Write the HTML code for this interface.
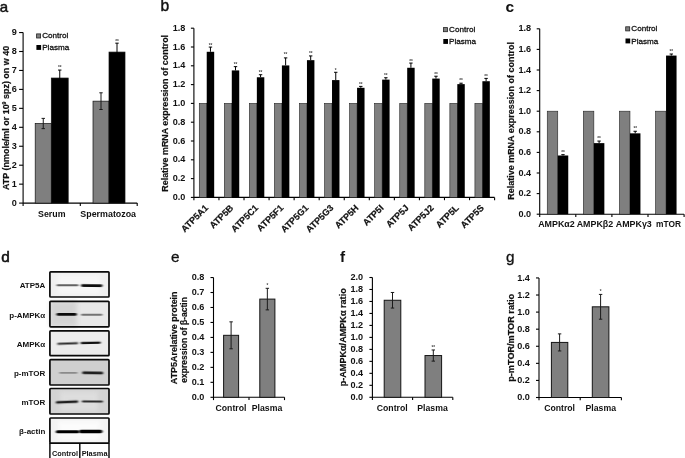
<!DOCTYPE html>
<html><head><meta charset="utf-8"><title>Figure</title>
<style>html,body{margin:0;padding:0;background:#fff;}body{width:685px;height:458px;overflow:hidden;font-family:"Liberation Sans",sans-serif;}</style>
</head><body>
<svg width="685" height="458" viewBox="0 0 685 458" font-family="'Liberation Sans', sans-serif" style="display:block;filter:grayscale(1)"><text x="-0.30" y="11.50" font-size="15" text-anchor="start" font-weight="normal" fill="#111" stroke="#111" stroke-width="0.5">a</text>
<line x1="19.10" y1="203.10" x2="23.10" y2="203.10" stroke="#000" stroke-width="1.1"/>
<text x="16.70" y="205.70" font-size="9.1" text-anchor="end" font-weight="bold" fill="#111">0</text>
<line x1="19.10" y1="184.15" x2="23.10" y2="184.15" stroke="#000" stroke-width="1.1"/>
<text x="16.70" y="186.75" font-size="9.1" text-anchor="end" font-weight="bold" fill="#111">1</text>
<line x1="19.10" y1="165.20" x2="23.10" y2="165.20" stroke="#000" stroke-width="1.1"/>
<text x="16.70" y="167.80" font-size="9.1" text-anchor="end" font-weight="bold" fill="#111">2</text>
<line x1="19.10" y1="146.25" x2="23.10" y2="146.25" stroke="#000" stroke-width="1.1"/>
<text x="16.70" y="148.85" font-size="9.1" text-anchor="end" font-weight="bold" fill="#111">3</text>
<line x1="19.10" y1="127.30" x2="23.10" y2="127.30" stroke="#000" stroke-width="1.1"/>
<text x="16.70" y="129.90" font-size="9.1" text-anchor="end" font-weight="bold" fill="#111">4</text>
<line x1="19.10" y1="108.35" x2="23.10" y2="108.35" stroke="#000" stroke-width="1.1"/>
<text x="16.70" y="110.95" font-size="9.1" text-anchor="end" font-weight="bold" fill="#111">5</text>
<line x1="19.10" y1="89.40" x2="23.10" y2="89.40" stroke="#000" stroke-width="1.1"/>
<text x="16.70" y="92.00" font-size="9.1" text-anchor="end" font-weight="bold" fill="#111">6</text>
<line x1="19.10" y1="70.45" x2="23.10" y2="70.45" stroke="#000" stroke-width="1.1"/>
<text x="16.70" y="73.05" font-size="9.1" text-anchor="end" font-weight="bold" fill="#111">7</text>
<line x1="19.10" y1="51.50" x2="23.10" y2="51.50" stroke="#000" stroke-width="1.1"/>
<text x="16.70" y="54.10" font-size="9.1" text-anchor="end" font-weight="bold" fill="#111">8</text>
<line x1="19.10" y1="32.55" x2="23.10" y2="32.55" stroke="#000" stroke-width="1.1"/>
<text x="16.70" y="35.15" font-size="9.1" text-anchor="end" font-weight="bold" fill="#111">9</text>
<line x1="23.10" y1="32.55" x2="23.10" y2="205.90" stroke="#000" stroke-width="1.1"/>
<line x1="23.10" y1="203.10" x2="137.20" y2="203.10" stroke="#000" stroke-width="1.1"/>
<line x1="80.30" y1="203.10" x2="80.30" y2="205.90" stroke="#000" stroke-width="1.1"/>
<line x1="137.20" y1="203.10" x2="137.20" y2="205.90" stroke="#000" stroke-width="1.1"/>
<rect x="35.20" y="123.51" width="16.10" height="79.59" fill="#7f7f7f" stroke="#111" stroke-width="0.7"/>
<rect x="51.30" y="78.03" width="16.90" height="125.07" fill="#000" stroke="#111" stroke-width="0.7"/>
<rect x="93.00" y="101.15" width="16.00" height="101.95" fill="#7f7f7f" stroke="#111" stroke-width="0.7"/>
<rect x="109.00" y="52.07" width="16.00" height="151.03" fill="#000" stroke="#111" stroke-width="0.7"/>
<line x1="43.25" y1="118.39" x2="43.25" y2="128.63" stroke="#1a1a1a" stroke-width="1.0"/>
<line x1="41.55" y1="118.39" x2="44.95" y2="118.39" stroke="#1a1a1a" stroke-width="1.0"/>
<line x1="41.55" y1="128.63" x2="44.95" y2="128.63" stroke="#1a1a1a" stroke-width="1.0"/>
<line x1="59.75" y1="70.07" x2="59.75" y2="85.99" stroke="#000" stroke-width="1.0"/>
<line x1="58.05" y1="70.07" x2="61.45" y2="70.07" stroke="#000" stroke-width="1.0"/>
<line x1="58.05" y1="85.99" x2="61.45" y2="85.99" stroke="#000" stroke-width="1.0"/>
<line x1="101.00" y1="92.81" x2="101.00" y2="109.49" stroke="#1a1a1a" stroke-width="1.0"/>
<line x1="99.30" y1="92.81" x2="102.70" y2="92.81" stroke="#1a1a1a" stroke-width="1.0"/>
<line x1="99.30" y1="109.49" x2="102.70" y2="109.49" stroke="#1a1a1a" stroke-width="1.0"/>
<line x1="117.00" y1="43.16" x2="117.00" y2="60.97" stroke="#000" stroke-width="1.0"/>
<line x1="115.30" y1="43.16" x2="118.70" y2="43.16" stroke="#000" stroke-width="1.0"/>
<line x1="115.30" y1="60.97" x2="118.70" y2="60.97" stroke="#000" stroke-width="1.0"/>
<text x="59.70" y="69.30" font-size="4.6" text-anchor="middle" font-weight="bold" fill="#444">**</text>
<text x="117.00" y="43.00" font-size="4.6" text-anchor="middle" font-weight="bold" fill="#444">**</text>
<text x="51.80" y="216.60" font-size="8.8" text-anchor="middle" font-weight="bold" fill="#111">Serum</text>
<text x="108.20" y="216.60" font-size="8.9" text-anchor="middle" font-weight="bold" fill="#111">Spermatozoa</text>
<text x="8.60" y="117.90" font-size="8.95" text-anchor="middle" font-weight="bold" fill="#111" stroke="#111" stroke-width="0.2" transform="rotate(-90 8.60 117.90)">ATP (nmole/ml or 10<tspan font-size='5.2' dy='-3'>9</tspan><tspan dy='3'> spz) on w 40</tspan></text>
<rect x="36.60" y="33.90" width="4.00" height="4.10" fill="#7f7f7f" stroke="#222" stroke-width="0.8"/>
<text x="42.20" y="38.30" font-size="8.1" text-anchor="start" font-weight="normal" fill="#111" stroke="#111" stroke-width="0.3">Control</text>
<rect x="36.40" y="45.00" width="4.70" height="4.90" fill="#000"/>
<text x="42.20" y="50.05" font-size="8.1" text-anchor="start" font-weight="normal" fill="#111" stroke="#111" stroke-width="0.3">Plasma</text>
<text x="160.60" y="11.20" font-size="15.6" text-anchor="start" font-weight="normal" fill="#111" stroke="#111" stroke-width="0.45">b</text>
<line x1="190.90" y1="197.40" x2="193.90" y2="197.40" stroke="#000" stroke-width="1.1"/>
<text x="185.30" y="200.00" font-size="9.1" text-anchor="end" font-weight="bold" fill="#111">0.0</text>
<line x1="190.90" y1="178.60" x2="193.90" y2="178.60" stroke="#000" stroke-width="1.1"/>
<text x="185.30" y="181.20" font-size="9.1" text-anchor="end" font-weight="bold" fill="#111">0.2</text>
<line x1="190.90" y1="159.80" x2="193.90" y2="159.80" stroke="#000" stroke-width="1.1"/>
<text x="185.30" y="162.40" font-size="9.1" text-anchor="end" font-weight="bold" fill="#111">0.4</text>
<line x1="190.90" y1="141.00" x2="193.90" y2="141.00" stroke="#000" stroke-width="1.1"/>
<text x="185.30" y="143.60" font-size="9.1" text-anchor="end" font-weight="bold" fill="#111">0.6</text>
<line x1="190.90" y1="122.20" x2="193.90" y2="122.20" stroke="#000" stroke-width="1.1"/>
<text x="185.30" y="124.80" font-size="9.1" text-anchor="end" font-weight="bold" fill="#111">0.8</text>
<line x1="190.90" y1="103.40" x2="193.90" y2="103.40" stroke="#000" stroke-width="1.1"/>
<text x="185.30" y="106.00" font-size="9.1" text-anchor="end" font-weight="bold" fill="#111">1.0</text>
<line x1="190.90" y1="84.60" x2="193.90" y2="84.60" stroke="#000" stroke-width="1.1"/>
<text x="185.30" y="87.20" font-size="9.1" text-anchor="end" font-weight="bold" fill="#111">1.2</text>
<line x1="190.90" y1="65.80" x2="193.90" y2="65.80" stroke="#000" stroke-width="1.1"/>
<text x="185.30" y="68.40" font-size="9.1" text-anchor="end" font-weight="bold" fill="#111">1.4</text>
<line x1="190.90" y1="47.00" x2="193.90" y2="47.00" stroke="#000" stroke-width="1.1"/>
<text x="185.30" y="49.60" font-size="9.1" text-anchor="end" font-weight="bold" fill="#111">1.6</text>
<line x1="190.90" y1="28.20" x2="193.90" y2="28.20" stroke="#000" stroke-width="1.1"/>
<text x="185.30" y="30.80" font-size="9.1" text-anchor="end" font-weight="bold" fill="#111">1.8</text>
<line x1="193.90" y1="28.20" x2="193.90" y2="200.20" stroke="#000" stroke-width="1.1"/>
<line x1="193.90" y1="197.40" x2="494.60" y2="197.40" stroke="#000" stroke-width="1.1"/>
<line x1="218.96" y1="197.40" x2="218.96" y2="200.20" stroke="#000" stroke-width="1.1"/>
<rect x="199.28" y="103.40" width="7.45" height="94.00" fill="#7f7f7f" stroke="#222" stroke-width="0.6"/>
<rect x="206.73" y="51.79" width="7.45" height="145.61" fill="#000"/>
<line x1="210.45" y1="47.09" x2="210.45" y2="51.79" stroke="#000" stroke-width="1.0"/>
<line x1="208.75" y1="47.09" x2="212.15" y2="47.09" stroke="#000" stroke-width="1.0"/>
<text x="210.45" y="47.00" font-size="4.6" text-anchor="middle" font-weight="bold" fill="#444">**</text>
<text x="208.83" y="208.50" font-size="9.1" text-anchor="end" font-weight="bold" fill="#111" stroke="#111" stroke-width="0.2" transform="rotate(-45 208.83 208.50)">ATP5A1</text>
<line x1="244.02" y1="197.40" x2="244.02" y2="200.20" stroke="#000" stroke-width="1.1"/>
<rect x="224.34" y="103.40" width="7.45" height="94.00" fill="#7f7f7f" stroke="#222" stroke-width="0.6"/>
<rect x="231.79" y="70.41" width="7.45" height="126.99" fill="#000"/>
<line x1="235.51" y1="66.65" x2="235.51" y2="70.41" stroke="#000" stroke-width="1.0"/>
<line x1="233.81" y1="66.65" x2="237.21" y2="66.65" stroke="#000" stroke-width="1.0"/>
<text x="235.51" y="66.00" font-size="4.6" text-anchor="middle" font-weight="bold" fill="#444">**</text>
<text x="233.89" y="208.50" font-size="9.1" text-anchor="end" font-weight="bold" fill="#111" stroke="#111" stroke-width="0.2" transform="rotate(-45 233.89 208.50)">ATP5B</text>
<line x1="269.08" y1="197.40" x2="269.08" y2="200.20" stroke="#000" stroke-width="1.1"/>
<rect x="249.40" y="103.40" width="7.45" height="94.00" fill="#7f7f7f" stroke="#222" stroke-width="0.6"/>
<rect x="256.85" y="77.27" width="7.45" height="120.13" fill="#000"/>
<line x1="260.57" y1="74.73" x2="260.57" y2="77.27" stroke="#000" stroke-width="1.0"/>
<line x1="258.87" y1="74.73" x2="262.27" y2="74.73" stroke="#000" stroke-width="1.0"/>
<text x="260.57" y="73.80" font-size="4.6" text-anchor="middle" font-weight="bold" fill="#444">**</text>
<text x="258.95" y="208.50" font-size="9.1" text-anchor="end" font-weight="bold" fill="#111" stroke="#111" stroke-width="0.2" transform="rotate(-45 258.95 208.50)">ATP5C1</text>
<line x1="294.13" y1="197.40" x2="294.13" y2="200.20" stroke="#000" stroke-width="1.1"/>
<rect x="274.45" y="103.40" width="7.45" height="94.00" fill="#7f7f7f" stroke="#222" stroke-width="0.6"/>
<rect x="281.90" y="65.42" width="7.45" height="131.98" fill="#000"/>
<line x1="285.63" y1="57.90" x2="285.63" y2="65.42" stroke="#000" stroke-width="1.0"/>
<line x1="283.93" y1="57.90" x2="287.33" y2="57.90" stroke="#000" stroke-width="1.0"/>
<text x="285.63" y="56.20" font-size="4.6" text-anchor="middle" font-weight="bold" fill="#444">**</text>
<text x="284.00" y="208.50" font-size="9.1" text-anchor="end" font-weight="bold" fill="#111" stroke="#111" stroke-width="0.2" transform="rotate(-45 284.00 208.50)">ATP5F1</text>
<line x1="319.19" y1="197.40" x2="319.19" y2="200.20" stroke="#000" stroke-width="1.1"/>
<rect x="299.51" y="103.40" width="7.45" height="94.00" fill="#7f7f7f" stroke="#222" stroke-width="0.6"/>
<rect x="306.96" y="60.16" width="7.45" height="137.24" fill="#000"/>
<line x1="310.69" y1="55.93" x2="310.69" y2="60.16" stroke="#000" stroke-width="1.0"/>
<line x1="308.99" y1="55.93" x2="312.39" y2="55.93" stroke="#000" stroke-width="1.0"/>
<text x="310.69" y="54.70" font-size="4.6" text-anchor="middle" font-weight="bold" fill="#444">**</text>
<text x="309.06" y="208.50" font-size="9.1" text-anchor="end" font-weight="bold" fill="#111" stroke="#111" stroke-width="0.2" transform="rotate(-45 309.06 208.50)">ATP5G1</text>
<line x1="344.25" y1="197.40" x2="344.25" y2="200.20" stroke="#000" stroke-width="1.1"/>
<rect x="324.57" y="103.40" width="7.45" height="94.00" fill="#7f7f7f" stroke="#222" stroke-width="0.6"/>
<rect x="332.02" y="80.09" width="7.45" height="117.31" fill="#000"/>
<line x1="335.75" y1="72.29" x2="335.75" y2="80.09" stroke="#000" stroke-width="1.0"/>
<line x1="334.05" y1="72.29" x2="337.45" y2="72.29" stroke="#000" stroke-width="1.0"/>
<text x="335.75" y="72.00" font-size="4.6" text-anchor="middle" font-weight="bold" fill="#444">*</text>
<text x="334.12" y="208.50" font-size="9.1" text-anchor="end" font-weight="bold" fill="#111" stroke="#111" stroke-width="0.2" transform="rotate(-45 334.12 208.50)">ATP5G3</text>
<line x1="369.31" y1="197.40" x2="369.31" y2="200.20" stroke="#000" stroke-width="1.1"/>
<rect x="349.63" y="103.40" width="7.45" height="94.00" fill="#7f7f7f" stroke="#222" stroke-width="0.6"/>
<rect x="357.08" y="87.80" width="7.45" height="109.60" fill="#000"/>
<line x1="360.80" y1="86.39" x2="360.80" y2="87.80" stroke="#000" stroke-width="1.0"/>
<line x1="359.10" y1="86.39" x2="362.50" y2="86.39" stroke="#000" stroke-width="1.0"/>
<text x="360.80" y="85.70" font-size="4.6" text-anchor="middle" font-weight="bold" fill="#444">**</text>
<text x="359.18" y="208.50" font-size="9.1" text-anchor="end" font-weight="bold" fill="#111" stroke="#111" stroke-width="0.2" transform="rotate(-45 359.18 208.50)">ATP5H</text>
<line x1="394.37" y1="197.40" x2="394.37" y2="200.20" stroke="#000" stroke-width="1.1"/>
<rect x="374.69" y="103.40" width="7.45" height="94.00" fill="#7f7f7f" stroke="#222" stroke-width="0.6"/>
<rect x="382.14" y="79.62" width="7.45" height="117.78" fill="#000"/>
<line x1="385.86" y1="77.74" x2="385.86" y2="79.62" stroke="#000" stroke-width="1.0"/>
<line x1="384.16" y1="77.74" x2="387.56" y2="77.74" stroke="#000" stroke-width="1.0"/>
<text x="385.86" y="77.00" font-size="4.6" text-anchor="middle" font-weight="bold" fill="#444">**</text>
<text x="384.24" y="208.50" font-size="9.1" text-anchor="end" font-weight="bold" fill="#111" stroke="#111" stroke-width="0.2" transform="rotate(-45 384.24 208.50)">ATP5I</text>
<line x1="419.43" y1="197.40" x2="419.43" y2="200.20" stroke="#000" stroke-width="1.1"/>
<rect x="399.75" y="103.40" width="7.45" height="94.00" fill="#7f7f7f" stroke="#222" stroke-width="0.6"/>
<rect x="407.20" y="67.77" width="7.45" height="129.63" fill="#000"/>
<line x1="410.92" y1="63.07" x2="410.92" y2="67.77" stroke="#000" stroke-width="1.0"/>
<line x1="409.22" y1="63.07" x2="412.62" y2="63.07" stroke="#000" stroke-width="1.0"/>
<text x="410.92" y="62.80" font-size="4.6" text-anchor="middle" font-weight="bold" fill="#444">**</text>
<text x="409.30" y="208.50" font-size="9.1" text-anchor="end" font-weight="bold" fill="#111" stroke="#111" stroke-width="0.2" transform="rotate(-45 409.30 208.50)">ATP5J</text>
<line x1="444.48" y1="197.40" x2="444.48" y2="200.20" stroke="#000" stroke-width="1.1"/>
<rect x="424.80" y="103.40" width="7.45" height="94.00" fill="#7f7f7f" stroke="#222" stroke-width="0.6"/>
<rect x="432.25" y="78.58" width="7.45" height="118.82" fill="#000"/>
<line x1="435.98" y1="76.23" x2="435.98" y2="78.58" stroke="#000" stroke-width="1.0"/>
<line x1="434.28" y1="76.23" x2="437.68" y2="76.23" stroke="#000" stroke-width="1.0"/>
<text x="435.98" y="75.90" font-size="4.6" text-anchor="middle" font-weight="bold" fill="#444">**</text>
<text x="434.35" y="208.50" font-size="9.1" text-anchor="end" font-weight="bold" fill="#111" stroke="#111" stroke-width="0.2" transform="rotate(-45 434.35 208.50)">ATP5J2</text>
<line x1="469.54" y1="197.40" x2="469.54" y2="200.20" stroke="#000" stroke-width="1.1"/>
<rect x="449.86" y="103.40" width="7.45" height="94.00" fill="#7f7f7f" stroke="#222" stroke-width="0.6"/>
<rect x="457.31" y="84.13" width="7.45" height="113.27" fill="#000"/>
<line x1="461.04" y1="83.19" x2="461.04" y2="84.13" stroke="#000" stroke-width="1.0"/>
<line x1="459.34" y1="83.19" x2="462.74" y2="83.19" stroke="#000" stroke-width="1.0"/>
<text x="461.04" y="81.70" font-size="4.6" text-anchor="middle" font-weight="bold" fill="#444">**</text>
<text x="459.41" y="208.50" font-size="9.1" text-anchor="end" font-weight="bold" fill="#111" stroke="#111" stroke-width="0.2" transform="rotate(-45 459.41 208.50)">ATP5L</text>
<line x1="494.60" y1="197.40" x2="494.60" y2="200.20" stroke="#000" stroke-width="1.1"/>
<rect x="474.92" y="103.40" width="7.45" height="94.00" fill="#7f7f7f" stroke="#222" stroke-width="0.6"/>
<rect x="482.37" y="81.22" width="7.45" height="116.18" fill="#000"/>
<line x1="486.10" y1="78.40" x2="486.10" y2="81.22" stroke="#000" stroke-width="1.0"/>
<line x1="484.40" y1="78.40" x2="487.80" y2="78.40" stroke="#000" stroke-width="1.0"/>
<text x="486.10" y="77.50" font-size="4.6" text-anchor="middle" font-weight="bold" fill="#444">**</text>
<text x="484.47" y="208.50" font-size="9.1" text-anchor="end" font-weight="bold" fill="#111" stroke="#111" stroke-width="0.2" transform="rotate(-45 484.47 208.50)">ATP5S</text>
<text x="168.20" y="113.30" font-size="8.93" text-anchor="middle" font-weight="bold" fill="#111" stroke="#111" stroke-width="0.2" transform="rotate(-90 168.20 113.30)">Relative mRNA expression of control</text>
<rect x="443.50" y="27.60" width="4.00" height="4.10" fill="#7f7f7f" stroke="#222" stroke-width="0.8"/>
<text x="449.10" y="32.00" font-size="8.1" text-anchor="start" font-weight="normal" fill="#111" stroke="#111" stroke-width="0.3">Control</text>
<rect x="443.30" y="39.00" width="4.70" height="4.90" fill="#000"/>
<text x="449.10" y="44.05" font-size="8.1" text-anchor="start" font-weight="normal" fill="#111" stroke="#111" stroke-width="0.3">Plasma</text>
<text x="505.50" y="11.60" font-size="15.5" text-anchor="start" font-weight="bold" fill="#111">c</text>
<line x1="536.70" y1="214.20" x2="539.70" y2="214.20" stroke="#000" stroke-width="1.1"/>
<text x="531.20" y="216.80" font-size="9.1" text-anchor="end" font-weight="bold" fill="#111">0.0</text>
<line x1="536.70" y1="193.60" x2="539.70" y2="193.60" stroke="#000" stroke-width="1.1"/>
<text x="531.20" y="196.20" font-size="9.1" text-anchor="end" font-weight="bold" fill="#111">0.2</text>
<line x1="536.70" y1="173.00" x2="539.70" y2="173.00" stroke="#000" stroke-width="1.1"/>
<text x="531.20" y="175.60" font-size="9.1" text-anchor="end" font-weight="bold" fill="#111">0.4</text>
<line x1="536.70" y1="152.40" x2="539.70" y2="152.40" stroke="#000" stroke-width="1.1"/>
<text x="531.20" y="155.00" font-size="9.1" text-anchor="end" font-weight="bold" fill="#111">0.6</text>
<line x1="536.70" y1="131.80" x2="539.70" y2="131.80" stroke="#000" stroke-width="1.1"/>
<text x="531.20" y="134.40" font-size="9.1" text-anchor="end" font-weight="bold" fill="#111">0.8</text>
<line x1="536.70" y1="111.20" x2="539.70" y2="111.20" stroke="#000" stroke-width="1.1"/>
<text x="531.20" y="113.80" font-size="9.1" text-anchor="end" font-weight="bold" fill="#111">1.0</text>
<line x1="536.70" y1="90.60" x2="539.70" y2="90.60" stroke="#000" stroke-width="1.1"/>
<text x="531.20" y="93.20" font-size="9.1" text-anchor="end" font-weight="bold" fill="#111">1.2</text>
<line x1="536.70" y1="70.00" x2="539.70" y2="70.00" stroke="#000" stroke-width="1.1"/>
<text x="531.20" y="72.60" font-size="9.1" text-anchor="end" font-weight="bold" fill="#111">1.4</text>
<line x1="536.70" y1="49.40" x2="539.70" y2="49.40" stroke="#000" stroke-width="1.1"/>
<text x="531.20" y="52.00" font-size="9.1" text-anchor="end" font-weight="bold" fill="#111">1.6</text>
<line x1="536.70" y1="28.80" x2="539.70" y2="28.80" stroke="#000" stroke-width="1.1"/>
<text x="531.20" y="31.40" font-size="9.1" text-anchor="end" font-weight="bold" fill="#111">1.8</text>
<line x1="539.70" y1="28.80" x2="539.70" y2="217.00" stroke="#000" stroke-width="1.1"/>
<line x1="539.70" y1="214.20" x2="684.10" y2="214.20" stroke="#000" stroke-width="1.1"/>
<line x1="575.80" y1="214.20" x2="575.80" y2="217.00" stroke="#000" stroke-width="1.1"/>
<rect x="547.25" y="111.20" width="10.50" height="103.00" fill="#7f7f7f" stroke="#222" stroke-width="0.6"/>
<rect x="557.75" y="155.49" width="10.50" height="58.71" fill="#000"/>
<line x1="563.00" y1="154.67" x2="563.00" y2="155.49" stroke="#000" stroke-width="1.0"/>
<line x1="561.30" y1="154.67" x2="564.70" y2="154.67" stroke="#000" stroke-width="1.0"/>
<text x="563.00" y="153.60" font-size="4.6" text-anchor="middle" font-weight="bold" fill="#444">**</text>
<text x="538.20" y="226.90" font-size="8.9" text-anchor="start" font-weight="bold" fill="#111">AMPKα2</text>
<line x1="611.90" y1="214.20" x2="611.90" y2="217.00" stroke="#000" stroke-width="1.1"/>
<rect x="583.35" y="111.20" width="10.50" height="103.00" fill="#7f7f7f" stroke="#222" stroke-width="0.6"/>
<rect x="593.85" y="143.13" width="10.50" height="71.07" fill="#000"/>
<line x1="599.10" y1="141.07" x2="599.10" y2="143.13" stroke="#000" stroke-width="1.0"/>
<line x1="597.40" y1="141.07" x2="600.80" y2="141.07" stroke="#000" stroke-width="1.0"/>
<text x="599.10" y="140.40" font-size="4.6" text-anchor="middle" font-weight="bold" fill="#444">**</text>
<text x="576.70" y="226.90" font-size="8.9" text-anchor="start" font-weight="bold" fill="#111">AMPKβ2</text>
<line x1="648.00" y1="214.20" x2="648.00" y2="217.00" stroke="#000" stroke-width="1.1"/>
<rect x="619.45" y="111.20" width="10.50" height="103.00" fill="#7f7f7f" stroke="#222" stroke-width="0.6"/>
<rect x="629.95" y="133.34" width="10.50" height="80.86" fill="#000"/>
<line x1="635.20" y1="131.28" x2="635.20" y2="133.34" stroke="#000" stroke-width="1.0"/>
<line x1="633.50" y1="131.28" x2="636.90" y2="131.28" stroke="#000" stroke-width="1.0"/>
<text x="635.20" y="130.20" font-size="4.6" text-anchor="middle" font-weight="bold" fill="#444">**</text>
<text x="615.80" y="226.90" font-size="8.9" text-anchor="start" font-weight="bold" fill="#111">AMPKγ3</text>
<line x1="684.10" y1="214.20" x2="684.10" y2="217.00" stroke="#000" stroke-width="1.1"/>
<rect x="655.55" y="111.20" width="10.50" height="103.00" fill="#7f7f7f" stroke="#222" stroke-width="0.6"/>
<rect x="666.05" y="55.58" width="10.50" height="158.62" fill="#000"/>
<line x1="671.30" y1="54.03" x2="671.30" y2="55.58" stroke="#000" stroke-width="1.0"/>
<line x1="669.60" y1="54.03" x2="673.00" y2="54.03" stroke="#000" stroke-width="1.0"/>
<text x="671.30" y="52.90" font-size="4.6" text-anchor="middle" font-weight="bold" fill="#444">**</text>
<text x="656.00" y="226.90" font-size="8.4" text-anchor="start" font-weight="bold" fill="#111">mTOR</text>
<text x="513.60" y="120.90" font-size="8.98" text-anchor="middle" font-weight="bold" fill="#111" stroke="#111" stroke-width="0.2" transform="rotate(-90 513.60 120.90)">Relative mRNA expression of control</text>
<rect x="625.70" y="26.80" width="4.00" height="4.10" fill="#7f7f7f" stroke="#222" stroke-width="0.8"/>
<text x="631.30" y="31.20" font-size="8.1" text-anchor="start" font-weight="normal" fill="#111" stroke="#111" stroke-width="0.3">Control</text>
<rect x="625.50" y="38.50" width="4.70" height="4.90" fill="#000"/>
<text x="631.30" y="43.55" font-size="8.1" text-anchor="start" font-weight="normal" fill="#111" stroke="#111" stroke-width="0.3">Plasma</text>
<text x="1.30" y="261.60" font-size="15.4" text-anchor="start" font-weight="normal" fill="#111" stroke="#111" stroke-width="0.55">d</text>
<defs><filter id="bl" x="-20%" y="-300%" width="140%" height="700%"><feGaussianBlur stdDeviation="0.9 0.7"/></filter><filter id="bl2" x="-30%" y="-30%" width="160%" height="160%"><feGaussianBlur stdDeviation="2"/></filter></defs>
<rect x="49.90" y="271.80" width="59.10" height="25.20" fill="#efefef"/>
<rect x="58" y="274.8" width="42" height="19.19999999999999" fill="#f8f8f8" opacity="0.8" filter="url(#bl2)"/>
<rect x="56.5" y="284.35" width="22.10" height="1.9" rx="0.95" fill="#000" opacity="0.6" filter="url(#bl)" transform="rotate(0 67.55 285.30)"/>
<rect x="81" y="284.25" width="21.50" height="2.7" rx="1.35" fill="#000" opacity="0.95" filter="url(#bl)" transform="rotate(0.6 91.75 285.60)"/>
<rect x="49.9" y="271.8" width="59.10" height="25.20" rx="0.8" fill="none" stroke="#0a0a0a" stroke-width="1.7"/>
<text x="45.30" y="287.60" font-size="8.0" text-anchor="end" font-weight="bold" fill="#111">ATP5A</text>
<rect x="49.90" y="301.30" width="59.10" height="25.50" fill="#e8e8e8"/>
<rect x="50" y="301.3" width="27" height="25.5" fill="#d0d0d0" opacity="0.85" filter="url(#bl2)"/>
<rect x="56.5" y="312.95" width="20.30" height="2.9" rx="1.45" fill="#000" opacity="0.95" filter="url(#bl)" transform="rotate(0 66.65 314.40)"/>
<rect x="81" y="313.80" width="21.50" height="2.0" rx="1.0" fill="#000" opacity="0.5" filter="url(#bl)" transform="rotate(0 91.75 314.80)"/>
<rect x="49.9" y="301.3" width="59.10" height="25.50" rx="0.8" fill="none" stroke="#0a0a0a" stroke-width="1.7"/>
<text x="45.30" y="317.65" font-size="8.0" text-anchor="end" font-weight="bold" fill="#111">p-AMPKα</text>
<rect x="49.90" y="330.90" width="59.10" height="24.80" fill="#ececec"/>
<rect x="57.2" y="342.55" width="21.00" height="1.9" rx="0.95" fill="#000" opacity="0.8" filter="url(#bl)" transform="rotate(-2.0 67.70 343.50)"/>
<rect x="80.5" y="341.65" width="20.30" height="2.3" rx="1.15" fill="#000" opacity="0.92" filter="url(#bl)" transform="rotate(-1.2 90.65 342.80)"/>
<rect x="49.9" y="330.9" width="59.10" height="24.80" rx="0.8" fill="none" stroke="#0a0a0a" stroke-width="1.7"/>
<text x="45.30" y="346.50" font-size="8.0" text-anchor="end" font-weight="bold" fill="#111">AMPKα</text>
<rect x="49.90" y="359.60" width="59.10" height="25.40" fill="#cfcfcf"/>
<rect x="59.2" y="371.90" width="18.30" height="1.8" rx="0.9" fill="#000" opacity="0.33" filter="url(#bl)" transform="rotate(0 68.35 372.80)"/>
<rect x="82.2" y="371.60" width="21.00" height="2.6" rx="1.3" fill="#000" opacity="0.85" filter="url(#bl)" transform="rotate(1.0 92.70 372.90)"/>
<rect x="49.9" y="359.6" width="59.10" height="25.40" rx="0.8" fill="none" stroke="#0a0a0a" stroke-width="1.7"/>
<text x="45.30" y="376.40" font-size="8.0" text-anchor="end" font-weight="bold" fill="#111">p-mTOR</text>
<rect x="49.90" y="388.50" width="59.10" height="25.50" fill="#d3d3d3"/>
<rect x="60" y="391.5" width="38" height="19.5" fill="#e2e2e2" opacity="0.7" filter="url(#bl2)"/>
<rect x="55.8" y="400.80" width="22.40" height="2.4" rx="1.2" fill="#000" opacity="0.85" filter="url(#bl)" transform="rotate(-2.2 67.00 402.00)"/>
<rect x="81.8" y="400.60" width="21.20" height="2.0" rx="1.0" fill="#000" opacity="0.8" filter="url(#bl)" transform="rotate(0.5 92.40 401.60)"/>
<rect x="49.9" y="388.5" width="59.10" height="25.50" rx="0.8" fill="none" stroke="#0a0a0a" stroke-width="1.7"/>
<text x="45.30" y="405.45" font-size="8.0" text-anchor="end" font-weight="bold" fill="#111">mTOR</text>
<rect x="49.90" y="418.00" width="59.10" height="25.10" fill="#f3f3f3"/>
<rect x="58" y="421.0" width="42" height="19.100000000000023" fill="#fdfdfd" opacity="0.9" filter="url(#bl2)"/>
<rect x="55.8" y="430.30" width="23.70" height="3.0" rx="1.5" fill="#000" opacity="1.0" filter="url(#bl)" transform="rotate(0 67.65 431.80)"/>
<rect x="79" y="429.85" width="23.50" height="3.3" rx="1.65" fill="#000" opacity="1.0" filter="url(#bl)" transform="rotate(0 90.75 431.50)"/>
<rect x="49.9" y="418.0" width="59.10" height="25.10" rx="0.8" fill="none" stroke="#0a0a0a" stroke-width="1.7"/>
<text x="45.30" y="434.15" font-size="8.0" text-anchor="end" font-weight="bold" fill="#111">β-actin</text>
<line x1="49.90" y1="443.10" x2="49.90" y2="458.00" stroke="#000" stroke-width="1.4"/>
<line x1="109.00" y1="443.10" x2="109.00" y2="458.00" stroke="#000" stroke-width="1.4"/>
<line x1="79.80" y1="443.10" x2="79.80" y2="458.00" stroke="#000" stroke-width="1.4"/>
<text x="65.00" y="456.00" font-size="7.3" text-anchor="middle" font-weight="bold" fill="#111">Control</text>
<text x="94.60" y="456.00" font-size="7.4" text-anchor="middle" font-weight="bold" fill="#111">Plasma</text>
<text x="171.00" y="261.60" font-size="15.3" text-anchor="start" font-weight="normal" fill="#111" stroke="#111" stroke-width="0.3">e</text>
<line x1="210.50" y1="397.30" x2="213.50" y2="397.30" stroke="#000" stroke-width="1.1"/>
<text x="204.30" y="399.90" font-size="9.1" text-anchor="end" font-weight="bold" fill="#111">0.0</text>
<line x1="210.50" y1="382.33" x2="213.50" y2="382.33" stroke="#000" stroke-width="1.1"/>
<text x="204.30" y="384.93" font-size="9.1" text-anchor="end" font-weight="bold" fill="#111">0.1</text>
<line x1="210.50" y1="367.36" x2="213.50" y2="367.36" stroke="#000" stroke-width="1.1"/>
<text x="204.30" y="369.96" font-size="9.1" text-anchor="end" font-weight="bold" fill="#111">0.2</text>
<line x1="210.50" y1="352.39" x2="213.50" y2="352.39" stroke="#000" stroke-width="1.1"/>
<text x="204.30" y="354.99" font-size="9.1" text-anchor="end" font-weight="bold" fill="#111">0.3</text>
<line x1="210.50" y1="337.42" x2="213.50" y2="337.42" stroke="#000" stroke-width="1.1"/>
<text x="204.30" y="340.02" font-size="9.1" text-anchor="end" font-weight="bold" fill="#111">0.4</text>
<line x1="210.50" y1="322.45" x2="213.50" y2="322.45" stroke="#000" stroke-width="1.1"/>
<text x="204.30" y="325.05" font-size="9.1" text-anchor="end" font-weight="bold" fill="#111">0.5</text>
<line x1="210.50" y1="307.48" x2="213.50" y2="307.48" stroke="#000" stroke-width="1.1"/>
<text x="204.30" y="310.08" font-size="9.1" text-anchor="end" font-weight="bold" fill="#111">0.6</text>
<line x1="210.50" y1="292.51" x2="213.50" y2="292.51" stroke="#000" stroke-width="1.1"/>
<text x="204.30" y="295.11" font-size="9.1" text-anchor="end" font-weight="bold" fill="#111">0.7</text>
<line x1="210.50" y1="277.54" x2="213.50" y2="277.54" stroke="#000" stroke-width="1.1"/>
<text x="204.30" y="280.14" font-size="9.1" text-anchor="end" font-weight="bold" fill="#111">0.8</text>
<line x1="213.50" y1="277.54" x2="213.50" y2="400.10" stroke="#000" stroke-width="1.1"/>
<line x1="213.50" y1="397.30" x2="284.50" y2="397.30" stroke="#000" stroke-width="1.1"/>
<line x1="249.00" y1="397.30" x2="249.00" y2="400.10" stroke="#000" stroke-width="1.1"/>
<line x1="284.50" y1="397.30" x2="284.50" y2="400.10" stroke="#000" stroke-width="1.1"/>
<rect x="223.60" y="335.32" width="15.00" height="61.98" fill="#7f7f7f" stroke="#151515" stroke-width="1.0"/>
<line x1="231.10" y1="321.85" x2="231.10" y2="348.80" stroke="#1a1a1a" stroke-width="1.0"/>
<line x1="229.40" y1="321.85" x2="232.80" y2="321.85" stroke="#1a1a1a" stroke-width="1.0"/>
<line x1="229.40" y1="348.80" x2="232.80" y2="348.80" stroke="#1a1a1a" stroke-width="1.0"/>
<rect x="259.80" y="299.10" width="15.10" height="98.20" fill="#7f7f7f" stroke="#151515" stroke-width="1.0"/>
<line x1="267.35" y1="288.32" x2="267.35" y2="309.88" stroke="#1a1a1a" stroke-width="1.0"/>
<line x1="265.65" y1="288.32" x2="269.05" y2="288.32" stroke="#1a1a1a" stroke-width="1.0"/>
<line x1="265.65" y1="309.88" x2="269.05" y2="309.88" stroke="#1a1a1a" stroke-width="1.0"/>
<text x="230.95" y="411.00" font-size="8.7" text-anchor="middle" font-weight="bold" fill="#111">Control</text>
<text x="267.05" y="411.00" font-size="8.7" text-anchor="middle" font-weight="bold" fill="#111">Plasma</text>
<text x="177.30" y="337.80" font-size="8.95" text-anchor="middle" font-weight="bold" fill="#111" stroke="#111" stroke-width="0.2" transform="rotate(-90 177.30 337.80)">ATP5Arelative protein</text>
<text x="187.40" y="339.90" font-size="8.5" text-anchor="middle" font-weight="bold" fill="#111" stroke="#111" stroke-width="0.2" transform="rotate(-90 187.40 339.90)">expression of β-actin</text>
<text x="267.30" y="286.90" font-size="4.6" text-anchor="middle" font-weight="bold" fill="#444">*</text>
<text x="340.00" y="261.60" font-size="15.3" text-anchor="start" font-weight="bold" fill="#111">f</text>
<line x1="369.40" y1="397.30" x2="372.40" y2="397.30" stroke="#000" stroke-width="1.1"/>
<text x="363.20" y="399.90" font-size="9.1" text-anchor="end" font-weight="bold" fill="#111">0.0</text>
<line x1="369.40" y1="385.32" x2="372.40" y2="385.32" stroke="#000" stroke-width="1.1"/>
<text x="363.20" y="387.92" font-size="9.1" text-anchor="end" font-weight="bold" fill="#111">0.2</text>
<line x1="369.40" y1="373.34" x2="372.40" y2="373.34" stroke="#000" stroke-width="1.1"/>
<text x="363.20" y="375.94" font-size="9.1" text-anchor="end" font-weight="bold" fill="#111">0.4</text>
<line x1="369.40" y1="361.36" x2="372.40" y2="361.36" stroke="#000" stroke-width="1.1"/>
<text x="363.20" y="363.96" font-size="9.1" text-anchor="end" font-weight="bold" fill="#111">0.6</text>
<line x1="369.40" y1="349.38" x2="372.40" y2="349.38" stroke="#000" stroke-width="1.1"/>
<text x="363.20" y="351.98" font-size="9.1" text-anchor="end" font-weight="bold" fill="#111">0.8</text>
<line x1="369.40" y1="337.40" x2="372.40" y2="337.40" stroke="#000" stroke-width="1.1"/>
<text x="363.20" y="340.00" font-size="9.1" text-anchor="end" font-weight="bold" fill="#111">1.0</text>
<line x1="369.40" y1="325.42" x2="372.40" y2="325.42" stroke="#000" stroke-width="1.1"/>
<text x="363.20" y="328.02" font-size="9.1" text-anchor="end" font-weight="bold" fill="#111">1.2</text>
<line x1="369.40" y1="313.44" x2="372.40" y2="313.44" stroke="#000" stroke-width="1.1"/>
<text x="363.20" y="316.04" font-size="9.1" text-anchor="end" font-weight="bold" fill="#111">1.4</text>
<line x1="369.40" y1="301.46" x2="372.40" y2="301.46" stroke="#000" stroke-width="1.1"/>
<text x="363.20" y="304.06" font-size="9.1" text-anchor="end" font-weight="bold" fill="#111">1.6</text>
<line x1="369.40" y1="289.48" x2="372.40" y2="289.48" stroke="#000" stroke-width="1.1"/>
<text x="363.20" y="292.08" font-size="9.1" text-anchor="end" font-weight="bold" fill="#111">1.8</text>
<line x1="369.40" y1="277.50" x2="372.40" y2="277.50" stroke="#000" stroke-width="1.1"/>
<text x="363.20" y="280.10" font-size="9.1" text-anchor="end" font-weight="bold" fill="#111">2.0</text>
<line x1="372.40" y1="277.50" x2="372.40" y2="400.10" stroke="#000" stroke-width="1.1"/>
<line x1="372.40" y1="397.30" x2="452.80" y2="397.30" stroke="#000" stroke-width="1.1"/>
<line x1="412.60" y1="397.30" x2="412.60" y2="400.10" stroke="#000" stroke-width="1.1"/>
<line x1="452.80" y1="397.30" x2="452.80" y2="400.10" stroke="#000" stroke-width="1.1"/>
<rect x="384.20" y="300.26" width="16.60" height="97.04" fill="#7f7f7f" stroke="#151515" stroke-width="1.0"/>
<line x1="392.50" y1="292.48" x2="392.50" y2="308.05" stroke="#1a1a1a" stroke-width="1.0"/>
<line x1="390.80" y1="292.48" x2="394.20" y2="292.48" stroke="#1a1a1a" stroke-width="1.0"/>
<line x1="390.80" y1="308.05" x2="394.20" y2="308.05" stroke="#1a1a1a" stroke-width="1.0"/>
<rect x="425.00" y="355.55" width="16.60" height="41.75" fill="#7f7f7f" stroke="#151515" stroke-width="1.0"/>
<line x1="433.30" y1="349.98" x2="433.30" y2="361.12" stroke="#1a1a1a" stroke-width="1.0"/>
<line x1="431.60" y1="349.98" x2="435.00" y2="349.98" stroke="#1a1a1a" stroke-width="1.0"/>
<line x1="431.60" y1="361.12" x2="435.00" y2="361.12" stroke="#1a1a1a" stroke-width="1.0"/>
<text x="392.20" y="411.00" font-size="8.7" text-anchor="middle" font-weight="bold" fill="#111">Control</text>
<text x="432.50" y="411.00" font-size="8.7" text-anchor="middle" font-weight="bold" fill="#111">Plasma</text>
<text x="346.50" y="337.30" font-size="9.1" text-anchor="middle" font-weight="bold" fill="#111" stroke="#111" stroke-width="0.2" transform="rotate(-90 346.50 337.30)">p-AMPKα/AMPKα ratio</text>
<text x="433.30" y="348.60" font-size="4.6" text-anchor="middle" font-weight="bold" fill="#444">**</text>
<text x="506.00" y="261.60" font-size="15.3" text-anchor="start" font-weight="normal" fill="#111" stroke="#111" stroke-width="0.3">g</text>
<line x1="536.00" y1="397.50" x2="539.00" y2="397.50" stroke="#000" stroke-width="1.1"/>
<text x="529.80" y="400.10" font-size="9.1" text-anchor="end" font-weight="bold" fill="#111">0.0</text>
<line x1="536.00" y1="380.42" x2="539.00" y2="380.42" stroke="#000" stroke-width="1.1"/>
<text x="529.80" y="383.02" font-size="9.1" text-anchor="end" font-weight="bold" fill="#111">0.2</text>
<line x1="536.00" y1="363.34" x2="539.00" y2="363.34" stroke="#000" stroke-width="1.1"/>
<text x="529.80" y="365.94" font-size="9.1" text-anchor="end" font-weight="bold" fill="#111">0.4</text>
<line x1="536.00" y1="346.26" x2="539.00" y2="346.26" stroke="#000" stroke-width="1.1"/>
<text x="529.80" y="348.86" font-size="9.1" text-anchor="end" font-weight="bold" fill="#111">0.6</text>
<line x1="536.00" y1="329.18" x2="539.00" y2="329.18" stroke="#000" stroke-width="1.1"/>
<text x="529.80" y="331.78" font-size="9.1" text-anchor="end" font-weight="bold" fill="#111">0.8</text>
<line x1="536.00" y1="312.10" x2="539.00" y2="312.10" stroke="#000" stroke-width="1.1"/>
<text x="529.80" y="314.70" font-size="9.1" text-anchor="end" font-weight="bold" fill="#111">1.0</text>
<line x1="536.00" y1="295.02" x2="539.00" y2="295.02" stroke="#000" stroke-width="1.1"/>
<text x="529.80" y="297.62" font-size="9.1" text-anchor="end" font-weight="bold" fill="#111">1.2</text>
<line x1="536.00" y1="277.94" x2="539.00" y2="277.94" stroke="#000" stroke-width="1.1"/>
<text x="529.80" y="280.54" font-size="9.1" text-anchor="end" font-weight="bold" fill="#111">1.4</text>
<line x1="539.00" y1="277.94" x2="539.00" y2="400.30" stroke="#000" stroke-width="1.1"/>
<line x1="539.00" y1="397.50" x2="621.40" y2="397.50" stroke="#000" stroke-width="1.1"/>
<line x1="580.20" y1="397.50" x2="580.20" y2="400.30" stroke="#000" stroke-width="1.1"/>
<line x1="621.40" y1="397.50" x2="621.40" y2="400.30" stroke="#000" stroke-width="1.1"/>
<rect x="551.40" y="342.42" width="16.40" height="55.08" fill="#7f7f7f" stroke="#151515" stroke-width="1.0"/>
<line x1="559.60" y1="333.88" x2="559.60" y2="350.96" stroke="#1a1a1a" stroke-width="1.0"/>
<line x1="557.90" y1="333.88" x2="561.30" y2="333.88" stroke="#1a1a1a" stroke-width="1.0"/>
<line x1="557.90" y1="350.96" x2="561.30" y2="350.96" stroke="#1a1a1a" stroke-width="1.0"/>
<rect x="592.30" y="306.81" width="16.60" height="90.69" fill="#7f7f7f" stroke="#151515" stroke-width="1.0"/>
<line x1="600.60" y1="294.42" x2="600.60" y2="319.19" stroke="#1a1a1a" stroke-width="1.0"/>
<line x1="598.90" y1="294.42" x2="602.30" y2="294.42" stroke="#1a1a1a" stroke-width="1.0"/>
<line x1="598.90" y1="319.19" x2="602.30" y2="319.19" stroke="#1a1a1a" stroke-width="1.0"/>
<text x="559.60" y="411.20" font-size="8.7" text-anchor="middle" font-weight="bold" fill="#111">Control</text>
<text x="600.80" y="411.20" font-size="8.7" text-anchor="middle" font-weight="bold" fill="#111">Plasma</text>
<text x="514.30" y="337.80" font-size="9.15" text-anchor="middle" font-weight="bold" fill="#111" stroke="#111" stroke-width="0.2" transform="rotate(-90 514.30 337.80)">p-mTOR/mTOR ratio</text>
<text x="600.60" y="293.30" font-size="4.6" text-anchor="middle" font-weight="bold" fill="#444">*</text></svg>
</body></html>
